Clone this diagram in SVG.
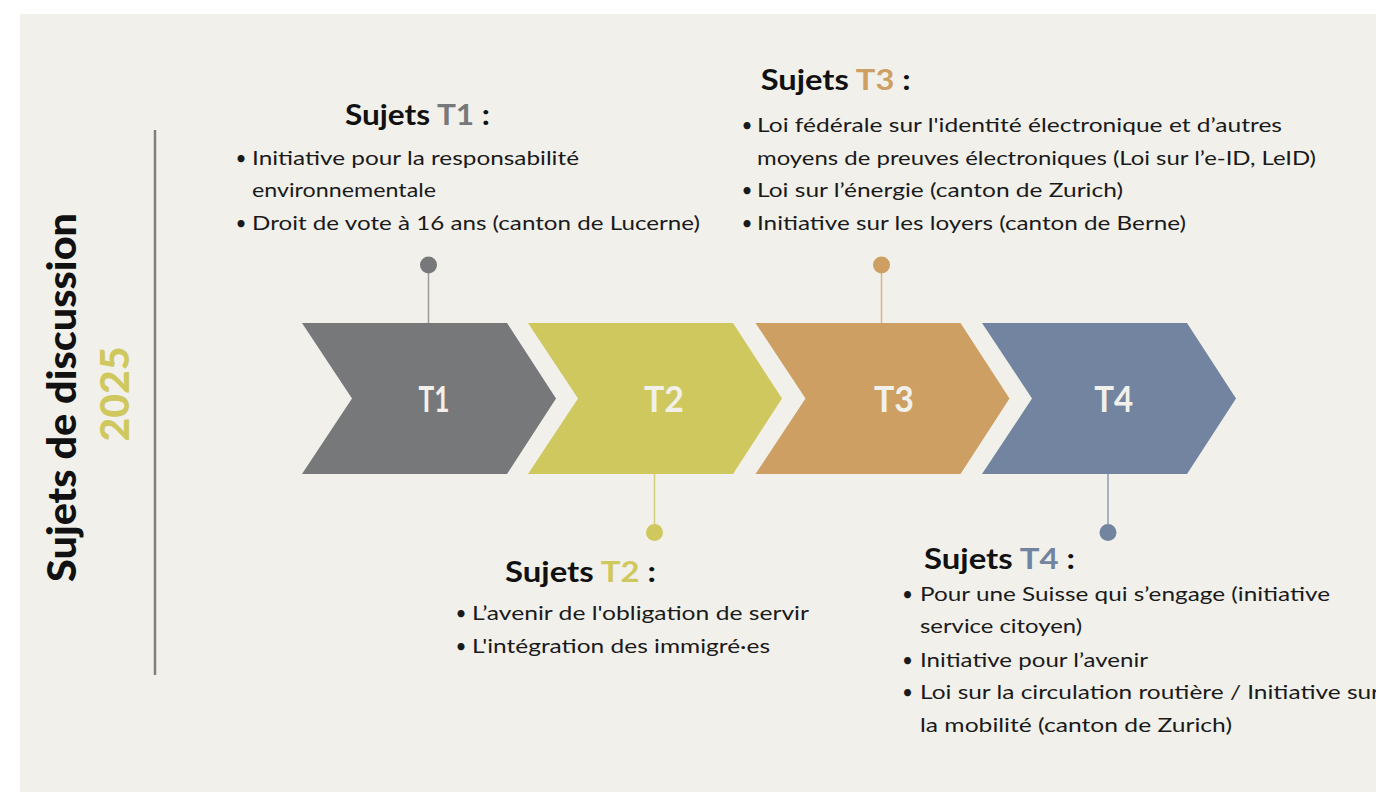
<svg xmlns="http://www.w3.org/2000/svg" width="1376" height="792" viewBox="0 0 1376 792">
<style>
.hdr{font-family:Lato,"Open Sans","DejaVu Sans",sans-serif;font-weight:700;font-size:28px;fill:#111}
.body{font-family:Lato,"Open Sans","DejaVu Sans",sans-serif;font-size:19px;fill:#1a1a1a}
.bul{font-family:Lato,"Open Sans","DejaVu Sans",sans-serif;font-size:19px;fill:#1a1a1a;text-anchor:middle}
.lab{font-family:Lato,"Open Sans","DejaVu Sans",sans-serif;font-weight:700;font-size:36px;fill:#f1f0eb;text-anchor:middle}
.title{font-family:Lato,"Open Sans","DejaVu Sans",sans-serif;font-weight:900;font-size:39px;text-anchor:middle}
</style>
<defs>
<path id="chev" d="M302,323 L507,323 L556,398.5 L507,474 L302,474 L352,398.5 Z"/>
</defs>
<rect x="0" y="0" width="1376" height="792" fill="#ffffff"/>
<rect x="20" y="14" width="1356" height="778" fill="#f1f0eb"/>

<g id="title">
<line x1="155" y1="130" x2="155" y2="675" stroke="#808080" stroke-width="2.5"/>
<text class="title" transform="translate(76,397.5) rotate(-90)" x="0" y="0" fill="#111" textLength="369" lengthAdjust="spacingAndGlyphs">Sujets de discussion</text>
<text class="title" transform="translate(129.3,394) rotate(-90)" x="0" y="0" fill="#cfc85f" textLength="95" lengthAdjust="spacingAndGlyphs">2025</text>
</g>

<g id="connectors">
<line x1="428.5" y1="273" x2="428.5" y2="323" stroke="#9b9b9b" stroke-width="1.5"/>
<circle cx="428.5" cy="265" r="8.5" fill="#77787a"/>
<line x1="654.5" y1="474" x2="654.5" y2="524" stroke="#d4cf7b" stroke-width="1.5"/>
<circle cx="654.5" cy="532.5" r="8.5" fill="#cfc85f"/>
<line x1="881.5" y1="273" x2="881.5" y2="323" stroke="#dbb58a" stroke-width="1.5"/>
<circle cx="881.5" cy="265" r="8.5" fill="#cd9f63"/>
<line x1="1108" y1="474" x2="1108" y2="524" stroke="#8e9db3" stroke-width="1.5"/>
<circle cx="1108" cy="532.5" r="8.5" fill="#72849f"/>
</g>

<g id="T1">
<use href="#chev" fill="#77787a"/>
<text class="lab" x="434" y="411.5" textLength="31" lengthAdjust="spacingAndGlyphs">T1</text>
</g>
<g id="T2">
<use href="#chev" transform="translate(226,0)" fill="#cfc85f"/>
<text class="lab" x="664" y="411.5" textLength="40" lengthAdjust="spacingAndGlyphs">T2</text>
</g>
<g id="T3">
<use href="#chev" transform="translate(453.5,0)" fill="#cd9f63"/>
<text class="lab" x="894" y="411.5" textLength="40" lengthAdjust="spacingAndGlyphs">T3</text>
</g>
<g id="T4">
<use href="#chev" transform="translate(680,0)" fill="#72849f"/>
<text class="lab" x="1113.7" y="411.5" textLength="39" lengthAdjust="spacingAndGlyphs">T4</text>
</g>

<g id="sujets-T1">
<text class="hdr" x="345" y="125" textLength="145" lengthAdjust="spacingAndGlyphs">Sujets <tspan fill="#77787a">T1</tspan> :</text>
<text class="bul" x="241" y="164.5">•</text>
<text class="body" x="252" y="164.5" textLength="327" lengthAdjust="spacingAndGlyphs">Initiative pour la responsabilité</text>
<text class="body" x="252" y="197" textLength="184" lengthAdjust="spacingAndGlyphs">environnementale</text>
<text class="bul" x="241" y="230">•</text>
<text class="body" x="252" y="230" textLength="448" lengthAdjust="spacingAndGlyphs">Droit de vote à 16 ans (canton de Lucerne)</text>
</g>

<g id="sujets-T3">
<text class="hdr" x="760.7" y="89.5" textLength="150" lengthAdjust="spacingAndGlyphs">Sujets <tspan fill="#cd9f63">T3</tspan> :</text>
<text class="bul" x="747" y="132">•</text>
<text class="body" x="757" y="132" textLength="525" lengthAdjust="spacingAndGlyphs">Loi fédérale sur l'identité électronique et d’autres</text>
<text class="body" x="757" y="164.5" textLength="559" lengthAdjust="spacingAndGlyphs">moyens de preuves électroniques (Loi sur l’e-ID, LeID)</text>
<text class="bul" x="747" y="197">•</text>
<text class="body" x="757" y="197" textLength="366" lengthAdjust="spacingAndGlyphs">Loi sur l’énergie (canton de Zurich)</text>
<text class="bul" x="747" y="229.5">•</text>
<text class="body" x="757" y="229.5" textLength="429" lengthAdjust="spacingAndGlyphs">Initiative sur les loyers (canton de Berne)</text>
</g>

<g id="sujets-T2">
<text class="hdr" x="505" y="581.7" textLength="151" lengthAdjust="spacingAndGlyphs">Sujets <tspan fill="#cfc85f">T2</tspan> :</text>
<text class="bul" x="461" y="620">•</text>
<text class="body" x="472" y="620" textLength="337" lengthAdjust="spacingAndGlyphs">L’avenir de l'obligation de servir</text>
<text class="bul" x="461" y="653">•</text>
<text class="body" x="472" y="653" textLength="298" lengthAdjust="spacingAndGlyphs">L'intégration des immigré·es</text>
</g>

<g id="sujets-T4">
<text class="hdr" x="924" y="569.3" textLength="151" lengthAdjust="spacingAndGlyphs">Sujets <tspan fill="#72849f">T4</tspan> :</text>
<text class="bul" x="907.5" y="600.7">•</text>
<text class="body" x="920" y="600.7" textLength="410" lengthAdjust="spacingAndGlyphs">Pour une Suisse qui s’engage (initiative</text>
<text class="body" x="920" y="633" textLength="162" lengthAdjust="spacingAndGlyphs">service citoyen)</text>
<text class="bul" x="907.5" y="666.5">•</text>
<text class="body" x="920" y="666.5" textLength="228" lengthAdjust="spacingAndGlyphs">Initiative pour l’avenir</text>
<text class="bul" x="907.5" y="699">•</text>
<text class="body" x="920" y="699" textLength="460" lengthAdjust="spacingAndGlyphs">Loi sur la circulation routière / Initiative sur</text>
<text class="body" x="920" y="731.7" textLength="312" lengthAdjust="spacingAndGlyphs">la mobilité (canton de Zurich)</text>
</g>
</svg>
